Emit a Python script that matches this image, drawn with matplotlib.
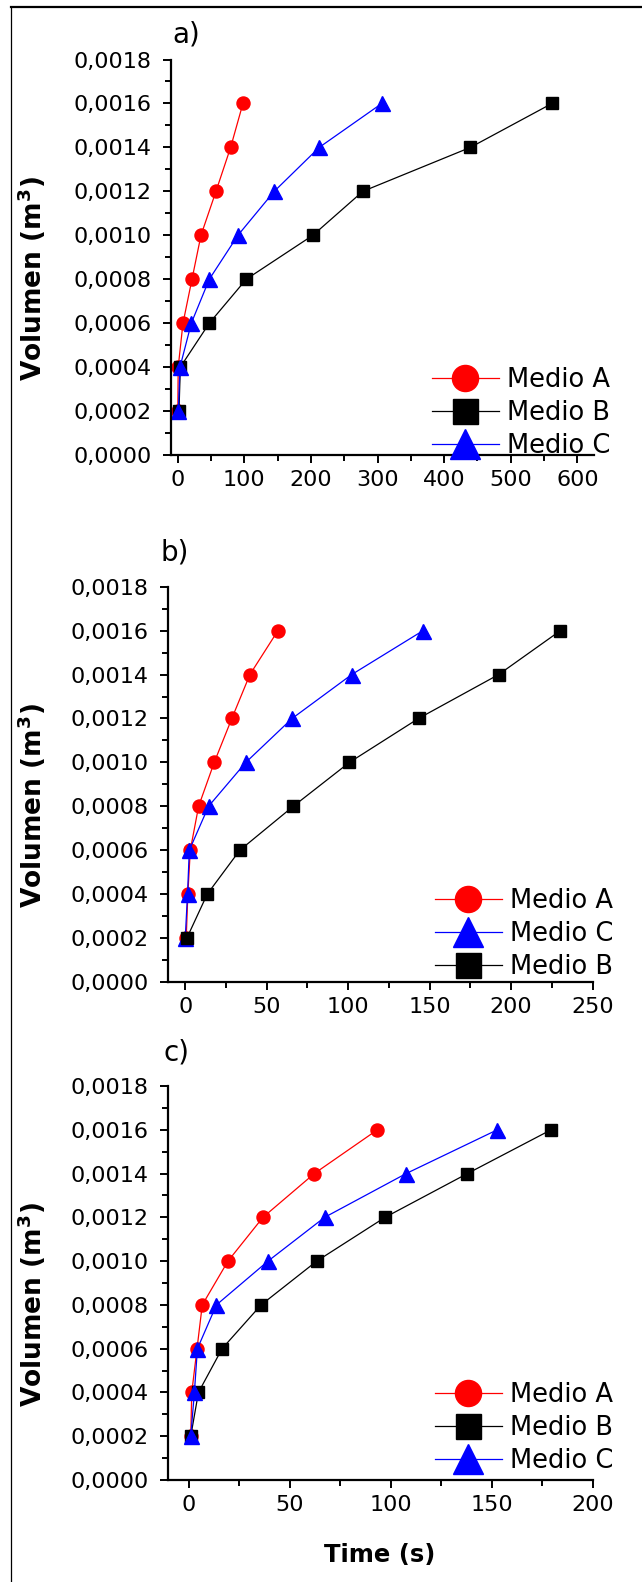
import matplotlib
matplotlib.use("Agg")
import matplotlib.pyplot as plt
from matplotlib.ticker import MultipleLocator, FuncFormatter
from matplotlib.lines import Line2D

plt.rcParams['font.family'] = ['DejaVu Sans']
plt.rcParams['mathtext.default'] = 'regular'

# Filtered volume (m^3) common to every series
volume = [0.0002, 0.0004, 0.0006, 0.0008, 0.0010, 0.0012, 0.0014, 0.0016]

# a) filtration times (s)
a_time_A = [0.2, 0.8, 8, 21.5, 35, 57.5, 79.5, 98]
a_time_B = [2, 4, 47.5, 103, 203, 278, 439.5, 562]
a_time_C = [1, 3.5, 20.5, 47.5, 90.5, 145, 212.5, 306.5]

# b) filtration times (s)
b_time_A = [0.6, 1.6, 3.1, 8.2, 17.8, 28.6, 39.7, 56.9]
b_time_C = [0, 1.4, 2.5, 14.3, 37.2, 65.6, 102.2, 146]
b_time_B = [1, 13.5, 33.5, 66.3, 100.8, 143.2, 192.4, 230.3]

# c) filtration times (s)
c_time_A = [1.1, 1.6, 4.2, 6.8, 19.5, 36.8, 62.2, 93.4]
c_time_B = [1.1, 4.9, 16.6, 35.9, 63.4, 97.2, 137.9, 179.3]
c_time_C = [1.1, 2.9, 4.4, 13.8, 39.3, 67.3, 107.6, 152.7]

W, H = 642, 1582
fig = plt.figure(figsize=(W / 100, H / 100), dpi=100)

styles = {
    'Medio A': dict(color='#ff0000', marker='o', ms=9.4),
    'Medio B': dict(color='#000000', marker='s', ms=9.0),
    'Medio C': dict(color='#0000ff', marker='^', ms=10.8),
}

fmt = FuncFormatter(lambda v, p: f"{v:.4f}".replace('.', ','))


def px_axes(l, r, t, b):
    return fig.add_axes([l / W, 1 - b / H, (r - l) / W, (b - t) / H])


def panel(l, r, t, b, xlim, xmaj, xmin, series, leg_xy, tag, tag_xy, ylab_y):
    ax = px_axes(l, r, t, b)
    for name, times in series:
        st = styles[name]
        ax.plot(times, volume, color=st['color'], lw=0.9, marker=st['marker'],
                ms=st['ms'], mfc=st['color'], mec=st['color'], label=name,
                clip_on=False)
    ax.set_xlim(*xlim)
    ax.set_ylim(0, 0.0018)
    for s in ('top', 'right'):
        ax.spines[s].set_visible(False)
    for s in ('left', 'bottom'):
        ax.spines[s].set_linewidth(1.6)
    ax.xaxis.set_major_locator(MultipleLocator(xmaj))
    ax.xaxis.set_minor_locator(MultipleLocator(xmin))
    ax.yaxis.set_major_locator(MultipleLocator(0.0002))
    ax.yaxis.set_minor_locator(MultipleLocator(0.0001))
    ax.yaxis.set_major_formatter(fmt)
    ax.tick_params(which='major', direction='out', length=6, width=1.4,
                   labelsize=16)
    ax.tick_params(which='minor', direction='out', length=4, width=1.4)
    ax.tick_params(axis='y', which='major', pad=8)
    ax.tick_params(axis='x', which='major', pad=5)
    ax.legend(loc='center left',
              bbox_to_anchor=(leg_xy[0] / W, 1 - leg_xy[1] / H),
              bbox_transform=fig.transFigure, frameon=False, fontsize=18.5,
              markerscale=2, handlelength=2.6, handletextpad=0.3,
              borderpad=0, borderaxespad=0, labelspacing=0.28)
    fig.text(tag_xy[0] / W, 1 - tag_xy[1] / H, tag, fontsize=20,
             ha='left', va='center')
    fig.text(32 / W, 1 - ylab_y / H, 'Volumen (m$^{3}$)', fontsize=19,
             fontweight='bold', rotation=90, ha='center', va='center')
    return ax


panel(171, 594, 59.5, 455, (-10, 625), 100, 50,
      [('Medio A', a_time_A), ('Medio B', a_time_B), ('Medio C', a_time_C)],
      (432, 413), 'a)', (172, 35), 279)

panel(168.3, 592.5, 586.7, 982, (-10.4, 250), 50, 25,
      [('Medio A', b_time_A), ('Medio C', b_time_C), ('Medio B', b_time_B)],
      (435, 934), 'b)', (161, 553), 806)

panel(168.3, 593, 1086, 1480, (-10, 200), 50, 25,
      [('Medio A', c_time_A), ('Medio B', c_time_B), ('Medio C', c_time_C)],
      (435, 1428), 'c)', (164, 1052), 1305)

fig.text(380 / W, 1 - 1555 / H, 'Time (s)', fontsize=17.5, fontweight='bold',
         ha='center', va='center')

# Outer frame: top and left rules
fig.add_artist(Line2D([11 / W, 1], [1 - 7 / H, 1 - 7 / H], color='black',
                      lw=1.6, transform=fig.transFigure))
fig.add_artist(Line2D([11 / W, 11 / W], [0, 1 - 7 / H], color='black',
                      lw=0.9, transform=fig.transFigure))

fig.savefig('out.png', dpi=100)
